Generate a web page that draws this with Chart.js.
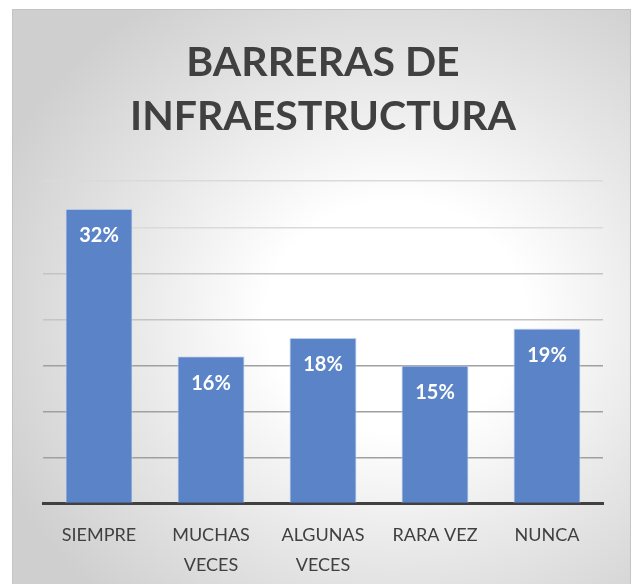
<!DOCTYPE html>
<html>
<head>
<meta charset="utf-8">
<script src="https://cdn.jsdelivr.net/npm/chart.js@4/dist/chart.umd.min.js"></script>
<style>
  html, body { margin: 0; padding: 0; background: #ffffff; width: 635px; height: 584px; overflow: hidden; }
  #box {
    position: absolute; left: 12px; top: 9px; width: 619px; height: 592px;
    border: 1px solid #c4c4c4; box-sizing: border-box;
    background: radial-gradient(ellipse 70% 65% at 62% 52%, #ffffff 0%, #ffffff 30%, #e6e6e6 65%, #cfcfcf 100%);
  }
  canvas { display: block; }
</style>
</head>
<body>
<div id="box"><canvas id="c" width="617" height="587"></canvas></div>
<script>
const titleLines = ['BARRERAS DE', 'INFRAESTRUCTURA'];
const categories = [['SIEMPRE'], ['MUCHAS', 'VECES'], ['ALGUNAS', 'VECES'], ['RARA VEZ'], ['NUNCA']];
const values = [32, 16, 18, 15, 19];
const yTicks = [0, 5, 10, 15, 20, 25, 30, 35];

const barLabels = {
  id: 'barLabels',
  afterDatasetsDraw(chart) {
    const ctx = chart.ctx;
    const meta = chart.getDatasetMeta(0);
    ctx.save();
    ctx.fillStyle = '#ffffff';
    ctx.font = 'bold 20px Lato';
    ctx.textAlign = 'center';
    ctx.textBaseline = 'middle';
    meta.data.forEach((bar, i) => {
      ctx.fillText(values[i] + '%', bar.x, bar.y + 27);
    });
    ctx.restore();
  }
};

new Chart(document.getElementById('c'), {
  type: 'bar',
  data: {
    labels: categories,
    datasets: [{
      data: values,
      backgroundColor: '#5b84c8',
      borderColor: 'rgba(205,218,240,0.9)',
      borderWidth: 1,
      categoryPercentage: 0.6,
      barPercentage: 1.0
    }]
  },
  options: {
    responsive: false,
    animation: false,
    layout: { padding: { left: 30, right: 27, top: 20, bottom: 0 } },
    plugins: {
      legend: { display: false },
      tooltip: { enabled: false },
      title: {
        display: true,
        text: titleLines,
        color: '#404040',
        font: { family: 'Lato', size: 41, weight: 'bold', lineHeight: 1.32 },
        padding: { top: 6, bottom: 37 }
      }
    },
    scales: {
      x: {
        grid: { display: false, drawTicks: false },
        border: { display: true, color: '#404040', width: 3 },
        ticks: {
          color: '#404040',
          font: { family: 'Lato', size: 18, lineHeight: 1.65 },
          padding: 17,
          maxRotation: 0,
          autoSkip: false
        }
      },
      y: {
        min: 0, max: 35,
        afterBuildTicks(scale) { scale.ticks = yTicks.map(v => ({ value: v })); },
        afterFit(scale) { scale.width = 0; },
        ticks: { display: false },
        border: { display: false },
        grid: {
          drawTicks: false,
          lineWidth: 1.5,
          color(ctx) {
            const v = ctx.tick ? ctx.tick.value : 0;
            if (v >= 30) return '#dadada';
            if (v >= 20) return '#c4c4c4';
            return '#a0a0a0';
          }
        }
      }
    }
  },
  plugins: [barLabels]
});
</script>
</body>
</html>
